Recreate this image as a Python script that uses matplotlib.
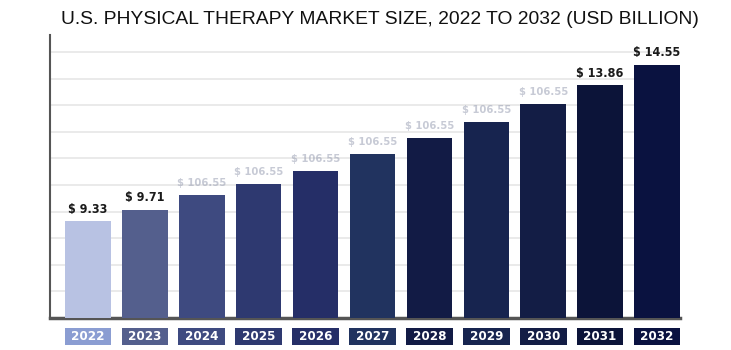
import matplotlib
matplotlib.use("Agg")
import matplotlib.pyplot as plt
from matplotlib.patches import Rectangle
from matplotlib.transforms import blended_transform_factory
from matplotlib import font_manager
import numpy as np

years = ["2022", "2023", "2024", "2025", "2026", "2027", "2028", "2029", "2030", "2031", "2032"]
values = [9.33, 9.71, 10.20, 10.56, 11.00, 11.56, 12.10, 12.63, 13.23, 13.86, 14.55]
labels = ["$ 9.33", "$ 9.71", "$ 106.55", "$ 106.55", "$ 106.55", "$ 106.55",
          "$ 106.55", "$ 106.55", "$ 106.55", "$ 13.86", "$ 14.55"]
blurred = [False, False, True, True, True, True, True, True, True, False, False]
bar_colors = ["#b8c2e3", "#545f8d", "#3e4a80", "#2e3970", "#252e67", "#21335f",
              "#121b45", "#17244f", "#131d45", "#0c1439", "#0a1240"]
box_colors = ["#8b9dd2", "#545f8d", "#3e4a80", "#2e3970", "#252e67", "#21335f",
              "#121b45", "#17244f", "#131d45", "#0c1439", "#0a1240"]
title = "U.S. PHYSICAL THERAPY MARKET SIZE, 2022 TO 2032 (USD BILLION)"

# pick a condensed bold font if one exists
lab_font = "Liberation Sans"
lab_stretch = "normal"
try:
    fp = font_manager.FontProperties(family="DejaVu Sans", weight="bold", stretch="condensed")
    path = font_manager.findfont(fp, fallback_to_default=False)
    if "Condensed" in path:
        lab_font = "DejaVu Sans"
        lab_stretch = "condensed"
except Exception:
    pass

fig = plt.figure(figsize=(7.31, 3.5), dpi=100)
ax = fig.add_axes([50/731, 32/350, 630/731, 283/350])

x = np.arange(len(years))
ax.bar(x, values, width=0.80, color=bar_colors, zorder=3)

ymin = 6.10
ax.set_ylim(ymin, ymin + 283/30)
ax.set_xlim(-0.668, 10.404)
step = 26.6/30
ax.set_yticks([ymin + step*k for k in range(1, 11)])
ax.yaxis.grid(True, color="#e8e8e8", linewidth=1.3, zorder=0)
ax.tick_params(left=False, bottom=False, labelleft=False, labelbottom=False)
for s in ["top", "right"]:
    ax.spines[s].set_visible(False)
ax.spines["left"].set_color("#555555")
ax.spines["left"].set_linewidth(1.5)
ax.spines["bottom"].set_color("#555555")
ax.spines["bottom"].set_linewidth(2.5)

for xi, v, lab, b in zip(x, values, labels, blurred):
    if b:
        ax.annotate(lab, (xi, v), xytext=(0, 5), textcoords="offset points",
                    ha="center", va="bottom", fontsize=8, fontweight="bold",
                    family=lab_font, stretch=lab_stretch,
                    color="#9aa0b4", alpha=0.55, zorder=4)
    else:
        ax.annotate(lab, (xi, v), xytext=(0, 4), textcoords="offset points",
                    ha="center", va="bottom", fontsize=9, fontweight="bold",
                    family=lab_font, stretch=lab_stretch,
                    color="#1a1a1a", zorder=4)

trans = blended_transform_factory(ax.transData, ax.transAxes)
for xi, yr, c in zip(x, years, box_colors):
    r = Rectangle((xi - 0.41, -0.096), 0.82, 0.062, transform=trans,
                  facecolor=c, edgecolor="none", clip_on=False)
    ax.add_patch(r)
    ax.text(xi, -0.066, yr, transform=trans, ha="center", va="center",
            fontsize=9.5, fontweight="bold", family=lab_font, stretch=lab_stretch,
            color="white")

fig.text(0.52, 0.945, title, ha="center", va="center", fontsize=13.9,
         family="Liberation Sans", color="#111111")

fig.savefig("out.png", dpi=100)
